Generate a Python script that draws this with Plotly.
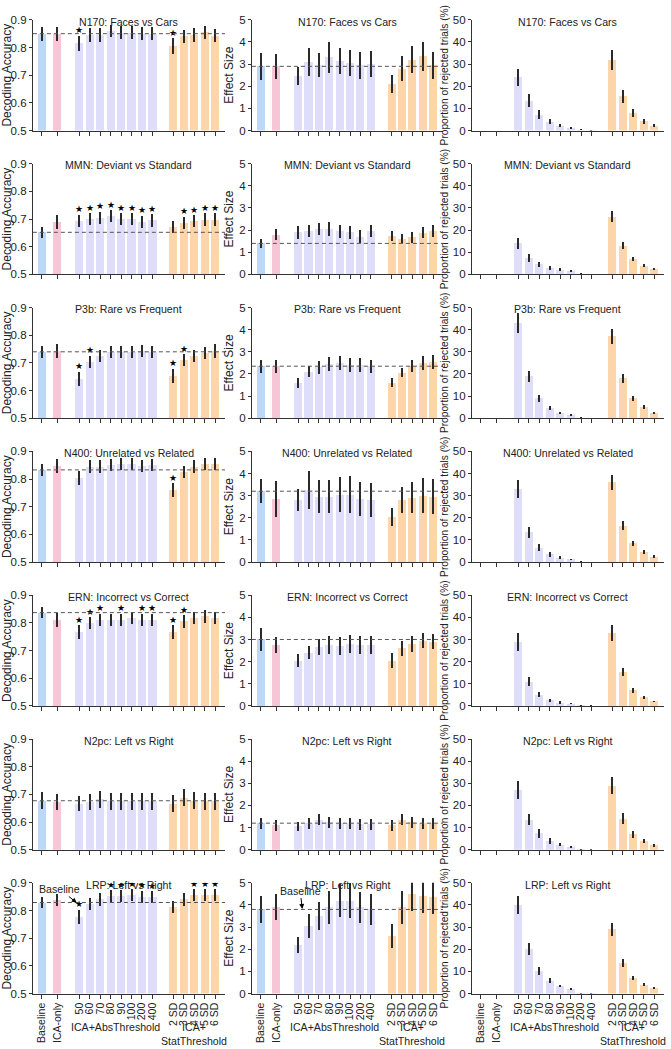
import plotly.graph_objects as go

categories = ["Baseline", "ICA-only", "50", "60", "70", "80", "90", "100", "200", "400",
              "2 SD", "3 SD", "4 SD", "5 SD", "6 SD"]
positions = [0, 1.5, 3.6, 4.6, 5.6, 6.6, 7.6, 8.6, 9.6, 10.6, 12.6, 13.6, 14.6, 15.6, 16.6]
titles = ["N170: Faces vs Cars", "MMN: Deviant vs Standard", "P3b: Rare vs Frequent",
          "N400: Unrelated vs Related", "ERN: Incorrect vs Correct", "N2pc: Left vs Right",
          "LRP: Left vs Right"]

# Decoding accuracy (mean, error)
acc_n170 = [0.850, 0.850, 0.815, 0.845, 0.845, 0.860, 0.853, 0.853, 0.850, 0.850, 0.805, 0.840, 0.845, 0.855, 0.843]
acc_mmn = [0.652, 0.690, 0.694, 0.700, 0.705, 0.710, 0.700, 0.700, 0.690, 0.695, 0.672, 0.687, 0.692, 0.698, 0.698]
acc_p3b = [0.740, 0.742, 0.643, 0.704, 0.725, 0.740, 0.740, 0.740, 0.742, 0.740, 0.654, 0.710, 0.725, 0.737, 0.742]
acc_n400 = [0.833, 0.848, 0.804, 0.845, 0.845, 0.850, 0.855, 0.853, 0.848, 0.850, 0.760, 0.825, 0.845, 0.853, 0.853]
acc_ern = [0.837, 0.811, 0.766, 0.800, 0.811, 0.811, 0.811, 0.817, 0.811, 0.811, 0.767, 0.805, 0.817, 0.823, 0.817]
acc_n2pc = [0.677, 0.672, 0.667, 0.672, 0.682, 0.675, 0.675, 0.675, 0.675, 0.675, 0.667, 0.688, 0.677, 0.675, 0.675]
acc_lrp = [0.829, 0.838, 0.778, 0.825, 0.840, 0.852, 0.853, 0.855, 0.850, 0.848, 0.812, 0.840, 0.855, 0.855, 0.855]

acc_err_n170 = [0.025, 0.025, 0.028, 0.024, 0.024, 0.022, 0.024, 0.024, 0.024, 0.024, 0.028, 0.025, 0.024, 0.023, 0.024]
acc_err_mmn = [0.020, 0.025, 0.022, 0.022, 0.022, 0.022, 0.022, 0.022, 0.022, 0.022, 0.022, 0.022, 0.022, 0.022, 0.022]
acc_err_p3b = [0.022, 0.025, 0.025, 0.022, 0.022, 0.022, 0.022, 0.022, 0.022, 0.022, 0.025, 0.022, 0.022, 0.022, 0.025]
acc_err_n400 = [0.022, 0.025, 0.025, 0.022, 0.022, 0.022, 0.022, 0.022, 0.022, 0.022, 0.025, 0.022, 0.022, 0.022, 0.022]
acc_err_ern = [0.020, 0.025, 0.025, 0.022, 0.022, 0.022, 0.022, 0.022, 0.022, 0.022, 0.025, 0.022, 0.022, 0.022, 0.022]
acc_err_n2pc = [0.030, 0.030, 0.028, 0.030, 0.030, 0.030, 0.030, 0.030, 0.030, 0.030, 0.030, 0.030, 0.030, 0.030, 0.030]
acc_err_lrp = [0.020, 0.022, 0.025, 0.022, 0.022, 0.022, 0.022, 0.022, 0.022, 0.022, 0.022, 0.022, 0.022, 0.022, 0.022]

# significance stars (1 = star) for decoding accuracy
stars_n170 = [0, 0, 1, 0, 0, 0, 0, 0, 0, 0, 1, 0, 0, 0, 0]
stars_mmn = [0, 0, 1, 1, 1, 1, 1, 1, 1, 1, 0, 1, 1, 1, 1]
stars_p3b = [0, 0, 1, 1, 0, 0, 0, 0, 0, 0, 1, 1, 0, 0, 0]
stars_n400 = [0, 0, 0, 0, 0, 0, 0, 0, 0, 0, 1, 0, 0, 0, 0]
stars_ern = [0, 0, 1, 1, 1, 0, 1, 0, 1, 1, 1, 1, 0, 0, 0]
stars_n2pc = [0, 0, 0, 0, 0, 0, 0, 0, 0, 0, 0, 0, 0, 0, 0]
stars_lrp = [0, 0, 1, 0, 0, 1, 1, 1, 1, 1, 0, 0, 1, 1, 1]

# Effect size (mean, error)
es_n170 = [2.90, 2.90, 2.45, 3.10, 2.95, 3.30, 3.15, 3.05, 2.95, 3.00, 2.10, 2.80, 3.20, 3.35, 2.95]
es_mmn = [1.40, 1.80, 1.90, 1.95, 2.05, 2.05, 1.95, 1.90, 1.70, 1.95, 1.72, 1.62, 1.68, 1.88, 1.95]
es_p3b = [2.35, 2.35, 1.60, 2.10, 2.30, 2.45, 2.50, 2.40, 2.40, 2.35, 1.60, 2.05, 2.35, 2.50, 2.55]
es_n400 = [3.20, 2.85, 2.80, 3.25, 2.95, 2.95, 3.05, 3.05, 2.85, 2.80, 2.05, 2.80, 2.90, 3.00, 2.95]
es_ern = [3.00, 2.75, 2.05, 2.40, 2.65, 2.75, 2.70, 2.80, 2.75, 2.75, 2.05, 2.60, 2.80, 2.95, 2.90]
es_n2pc = [1.20, 1.10, 1.05, 1.20, 1.35, 1.25, 1.20, 1.20, 1.15, 1.15, 1.10, 1.35, 1.25, 1.20, 1.20]
es_lrp = [3.80, 3.90, 2.20, 3.05, 3.50, 3.90, 4.20, 4.20, 3.90, 3.80, 2.60, 3.90, 4.50, 4.40, 4.35]

es_err_n170 = [0.60, 0.55, 0.40, 0.65, 0.55, 0.70, 0.60, 0.60, 0.60, 0.60, 0.40, 0.55, 0.60, 0.65, 0.60]
es_err_mmn = [0.20, 0.25, 0.28, 0.28, 0.28, 0.32, 0.30, 0.28, 0.30, 0.28, 0.22, 0.22, 0.25, 0.25, 0.28]
es_err_p3b = [0.30, 0.30, 0.22, 0.25, 0.30, 0.30, 0.30, 0.30, 0.30, 0.30, 0.20, 0.20, 0.28, 0.30, 0.32]
es_err_n400 = [0.55, 0.80, 0.50, 0.85, 0.75, 0.75, 0.80, 0.85, 0.75, 0.75, 0.40, 0.60, 0.70, 0.80, 0.80]
es_err_ern = [0.50, 0.35, 0.30, 0.30, 0.35, 0.40, 0.40, 0.40, 0.40, 0.40, 0.35, 0.35, 0.35, 0.35, 0.35]
es_err_n2pc = [0.25, 0.25, 0.20, 0.25, 0.25, 0.25, 0.25, 0.25, 0.25, 0.25, 0.25, 0.25, 0.25, 0.25, 0.25]
es_err_lrp = [0.60, 0.60, 0.35, 0.55, 0.65, 0.75, 0.75, 0.80, 0.70, 0.70, 0.55, 0.75, 0.75, 0.75, 0.75]

# Proportion of rejected trials (%) (mean, error); Baseline and ICA-only reject nothing
rej_n170 = [0, 0, 24.0, 13.5, 7.2, 4.0, 2.2, 1.2, 0.3, 0.1, 32.0, 15.5, 7.8, 4.2, 2.2]
rej_mmn = [0, 0, 14.0, 7.5, 4.5, 3.0, 2.2, 1.6, 0.3, 0.1, 26.0, 13.0, 7.0, 4.0, 2.5]
rej_p3b = [0, 0, 43.0, 19.0, 9.0, 4.5, 2.3, 1.5, 0.3, 0.1, 37.0, 18.0, 9.0, 5.0, 2.5]
rej_n400 = [0, 0, 33.0, 13.5, 6.5, 3.5, 2.0, 1.2, 0.2, 0.1, 36.0, 16.5, 8.5, 4.5, 2.5]
rej_ern = [0, 0, 29.0, 11.0, 5.0, 2.5, 1.5, 1.0, 0.2, 0.1, 33.0, 15.5, 7.0, 3.8, 2.0]
rej_n2pc = [0, 0, 27.0, 13.5, 7.5, 4.0, 2.3, 1.3, 0.3, 0.1, 29.0, 14.0, 7.0, 4.0, 2.0]
rej_lrp = [0, 0, 40.0, 20.0, 10.4, 5.9, 3.4, 2.2, 0.2, 0.1, 29.0, 14.0, 7.0, 4.0, 2.5]

rej_err_n170 = [0, 0, 4.0, 3.0, 2.0, 1.2, 0.8, 0.6, 0.2, 0.1, 4.5, 3.0, 1.8, 1.2, 0.8]
rej_err_mmn = [0, 0, 2.5, 1.8, 1.2, 1.0, 0.8, 0.6, 0.2, 0.1, 2.5, 1.5, 1.0, 0.8, 0.5]
rej_err_p3b = [0, 0, 4.5, 2.5, 1.5, 1.0, 0.6, 0.4, 0.2, 0.1, 3.5, 2.0, 1.2, 0.8, 0.5]
rej_err_n400 = [0, 0, 4.0, 2.5, 1.5, 1.0, 0.6, 0.4, 0.2, 0.1, 3.5, 2.0, 1.2, 0.8, 0.5]
rej_err_ern = [0, 0, 4.0, 2.0, 1.2, 0.7, 0.5, 0.3, 0.2, 0.1, 3.5, 1.8, 1.0, 0.6, 0.4]
rej_err_n2pc = [0, 0, 4.0, 2.5, 2.0, 1.2, 0.8, 0.5, 0.2, 0.1, 4.0, 2.5, 1.5, 1.0, 0.6]
rej_err_lrp = [0, 0, 4.0, 2.8, 1.8, 1.0, 0.6, 0.4, 0.2, 0.1, 3.0, 1.8, 1.0, 0.6, 0.4]

acc_all = [acc_n170, acc_mmn, acc_p3b, acc_n400, acc_ern, acc_n2pc, acc_lrp]
acc_err_all = [acc_err_n170, acc_err_mmn, acc_err_p3b, acc_err_n400, acc_err_ern, acc_err_n2pc, acc_err_lrp]
stars_all = [stars_n170, stars_mmn, stars_p3b, stars_n400, stars_ern, stars_n2pc, stars_lrp]
es_all = [es_n170, es_mmn, es_p3b, es_n400, es_ern, es_n2pc, es_lrp]
es_err_all = [es_err_n170, es_err_mmn, es_err_p3b, es_err_n400, es_err_ern, es_err_n2pc, es_err_lrp]
rej_all = [rej_n170, rej_mmn, rej_p3b, rej_n400, rej_ern, rej_n2pc, rej_lrp]
rej_err_all = [rej_err_n170, rej_err_mmn, rej_err_p3b, rej_err_n400, rej_err_ern, rej_err_n2pc, rej_err_lrp]

y_tickvals_acc = [0.5, 0.6, 0.7, 0.8, 0.9]
y_tickvals_es = [0, 1, 2, 3, 4, 5]
y_tickvals_rej = [0, 10, 20, 30, 40, 50]

bar_colors = ["#bdd8f6", "#f7c6d6"] + ["#dfdefa"] * 8 + ["#fdd5ab"] * 5
FONT = "Liberation Sans, Arial, sans-serif"
W, H = 671, 1049
col_px = [(30, 223), (250, 442), (471, 664)]
row_top0, row_step, row_h = 14, 145.5, 112
y_titles = ["Decoding Accuracy", "Effect Size", "Proportion of rejected trials (%)"]
y_title_size = [12, 12, 10.2]
y_ranges = [[0.5, 0.9], [0, 5], [0, 50]]
y_tickvals = [y_tickvals_acc, y_tickvals_es, y_tickvals_rej]
y_ticktext = [[f"{v:.1f}" for v in y_tickvals_acc], [str(v) for v in y_tickvals_es],
              [str(v) for v in y_tickvals_rej]]
TXT = "#222"

fig = go.Figure()
layout = dict(width=W, height=H, margin=dict(l=0, r=0, t=0, b=0, pad=0), autosize=False,
              plot_bgcolor="white", paper_bgcolor="white", showlegend=False,
              font=dict(family=FONT, size=11, color=TXT), bargap=0)
annotations = []
shapes = []

for r in range(7):
    top = row_top0 + r * row_step
    bot = top + row_h
    ydom = [1 - bot / H, 1 - top / H]
    for c in range(3):
        k = r * 3 + c
        xn = "x" if k == 0 else f"x{k + 1}"
        yn = "y" if k == 0 else f"y{k + 1}"
        xa = "xaxis" if k == 0 else f"xaxis{k + 1}"
        ya = "yaxis" if k == 0 else f"yaxis{k + 1}"
        if c == 0:
            vals, errs = acc_all[r], acc_err_all[r]
        elif c == 1:
            vals, errs = es_all[r], es_err_all[r]
        else:
            vals, errs = rej_all[r], rej_err_all[r]
        fig.add_trace(go.Bar(
            x=positions, y=vals, width=0.78, marker=dict(color=bar_colors, line=dict(width=0)),
            error_y=dict(type="data", array=errs, thickness=2, width=0, color="#2a2a2a"),
            xaxis=xn, yaxis=yn, hoverinfo="skip"))
        if c == 0:
            sx = [p for p, s in zip(positions, stars_all[r]) if s]
            sy = [v + e for v, e, s in zip(vals, errs, stars_all[r]) if s]
            if sx:
                fig.add_trace(go.Scatter(
                    x=sx, y=sy, mode="text", text=["★"] * len(sx), textposition="top center",
                    textfont=dict(size=9, color="black"), xaxis=xn, yaxis=yn, hoverinfo="skip"))
        if c < 2:
            shapes.append(dict(type="line", xref=f"{xn} domain", yref=yn, x0=0, x1=1,
                               y0=vals[0], y1=vals[0],
                               line=dict(color="#555", width=1, dash="4px,3px")))
        x0p, x1p = col_px[c]
        bottom = (r == 6)
        layout[xa] = dict(domain=[x0p / W, x1p / W], anchor=yn, range=[-0.85, 17.55],
                          tickvals=positions, ticktext=categories if bottom else [""] * len(categories),
                          tickangle=-90, ticks="outside", ticklen=4, tickcolor="#333",
                          showline=True, linecolor="#333", linewidth=1, showgrid=False,
                          zeroline=False, tickfont=dict(size=10.5, family=FONT, color=TXT),
                          fixedrange=True)
        layout[ya] = dict(domain=ydom, anchor=xn, range=y_ranges[c],
                          tickmode="array", tickvals=y_tickvals[c], ticktext=y_ticktext[c],
                          showticklabels=True, ticks="outside", ticklen=3, tickcolor="#333",
                          ticklabeloverflow="allow", visible=True,
                          showline=True, linecolor="#333", linewidth=1, showgrid=False,
                          zeroline=False, tickfont=dict(size=11.5, family=FONT, color=TXT),
                          title=dict(text=y_titles[c], font=dict(size=y_title_size[c], family=FONT, color=TXT),
                                     standoff=2),
                          fixedrange=True)
        annotations.append(dict(text=titles[r], xref=f"{xn} domain", yref=f"{yn} domain",
                                x=0.5, y=0.985, xanchor="center", yanchor="middle", showarrow=False,
                                font=dict(size=10.6, family=FONT, color=TXT)))
        if bottom:
            annotations.append(dict(text="ICA+AbsThreshold", xref=xn, yref="paper",
                                    x=7.1, y=1 - 1033 / H, xanchor="center", yanchor="middle",
                                    showarrow=False, font=dict(size=10.6, family=FONT, color=TXT)))
            annotations.append(dict(text="ICA+<br>StatThreshold", xref=xn, yref="paper",
                                    x=14.6, y=1 - 1040 / H, xanchor="center", yanchor="middle",
                                    showarrow=False, font=dict(size=10.6, family=FONT, color=TXT)))

# "Baseline" arrows on the LRP row
annotations.append(dict(text="Baseline", xref="x19", yref="y19", x=3.35, y=0.828,
                        ax=1.7, ay=0.878, axref="x19", ayref="y19", showarrow=True,
                        arrowhead=2, arrowsize=1, arrowwidth=1, arrowcolor="black",
                        font=dict(size=10.6, family=FONT, color=TXT)))
annotations.append(dict(text="Baseline", xref="x20", yref="y20", x=4.0, y=3.82,
                        ax=3.8, ay=4.65, axref="x20", ayref="y20", showarrow=True,
                        arrowhead=2, arrowsize=1, arrowwidth=1, arrowcolor="black",
                        font=dict(size=10.6, family=FONT, color=TXT)))

layout["annotations"] = annotations
layout["shapes"] = shapes
fig.update_layout(**layout)
fig.write_html("out.html", config={"displayModeBar": False, "staticPlot": True},
               post_script="document.body.style.margin='0';document.body.style.overflow='hidden';")
